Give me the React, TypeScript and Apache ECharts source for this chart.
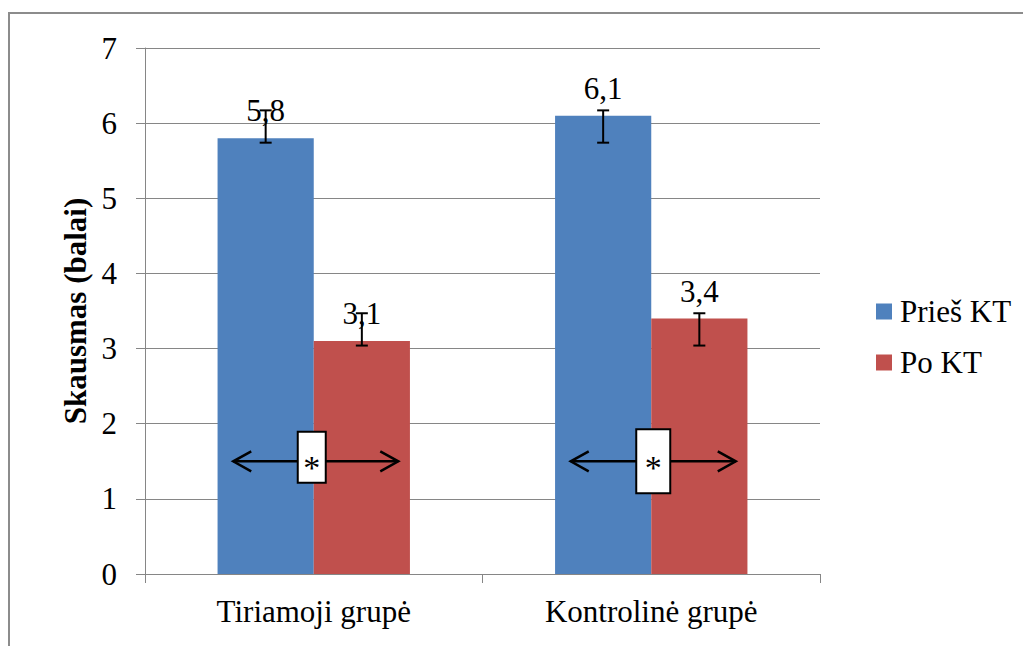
import React, { useEffect, useRef } from "react";
import * as echarts from "echarts";

const categories = ["Tiriamoji grupė", "Kontrolinė grupė"];
const seriesNames = ["Prieš KT", "Po KT"];
const priesValues = [5.8, 6.1];
const poValues = [3.1, 3.4];
const priesErrLow = [5.74, 5.74];
const priesErrHigh = [6.17, 6.17];
const poErrLow = [3.04, 3.04];
const poErrHigh = [3.47, 3.47];
const significanceY = [1.5, 1.5];
const significanceMark = ["*", "*"];
const yTicks = [0, 1, 2, 3, 4, 5, 6, 7];

const FONT = "Liberation Serif";
const BLUE = "#4F81BD";
const RED = "#C0504D";
const GRAY = "#868686";
const BAR_FRAC = 0.285;

// annotation box styling per group
const boxStyles = [
  { w: 28, h: 51, dx: -2, dy: -4 },
  { w: 34, h: 64, dx: 2, dy: 0 },
];

function errorSeries(low: number[], high: number[], sign: number) {
  return {
    type: "custom",
    z: 5,
    silent: true,
    data: categories.map((_, i) => [i, low[i], high[i]]),
    encode: { x: 0, y: [1, 2] },
    renderItem: (params: any, api: any) => {
      const idx = api.value(0);
      const base = api.coord([idx, 0]);
      const catW = api.size([1, 0])[0];
      const cx = base[0] + (sign * BAR_FRAC * catW) / 2;
      const yLo = api.coord([idx, api.value(1)])[1];
      const yHi = api.coord([idx, api.value(2)])[1];
      const cap = 6;
      const st = { stroke: "#000", lineWidth: 2 };
      return {
        type: "group",
        children: [
          { type: "line", shape: { x1: cx, y1: yLo, x2: cx, y2: yHi }, style: st },
          { type: "line", shape: { x1: cx - cap, y1: yLo, x2: cx + cap, y2: yLo }, style: st },
          { type: "line", shape: { x1: cx - cap, y1: yHi, x2: cx + cap, y2: yHi }, style: st },
        ],
      };
    },
  };
}

export default function App() {
  const ref = useRef<HTMLDivElement>(null);
  useEffect(() => {
    if (!ref.current) return;
    const chart = echarts.init(ref.current, null, { renderer: "svg" });
    const labelFmt = (p: any) => String(p.value).replace(".", ",");
    const txt = { fontFamily: FONT, fontSize: 31, color: "#000" };
    chart.setOption({
      animation: false,
      backgroundColor: "#fff",
      textStyle: { fontFamily: FONT },
      graphic: [
        {
          type: "rect",
          shape: { x: 9, y: 13, width: 1100, height: 700 },
          style: { fill: "none", stroke: "#8c8c8c", lineWidth: 2 },
          silent: true,
        },
      ],
      grid: { left: 145, top: 48, right: 203, bottom: 72 },
      legend: {
        orient: "vertical",
        left: 871,
        top: 291,
        itemWidth: 16,
        itemHeight: 16,
        itemGap: 20,
        icon: "rect",
        data: seriesNames,
        textStyle: { ...txt, padding: [0, 0, 0, 3] },
      },
      xAxis: {
        type: "category",
        data: categories,
        axisLine: { show: true, lineStyle: { color: GRAY, width: 1 } },
        axisTick: { show: true, length: 9, lineStyle: { color: GRAY } },
        axisLabel: { ...txt, margin: 22 },
      },
      yAxis: {
        type: "value",
        min: 0,
        max: 7,
        interval: 1,
        name: "Skausmas (balai)",
        nameLocation: "middle",
        nameRotate: 90,
        nameGap: 52,
        nameTextStyle: { ...txt, fontWeight: "bold" },
        axisLine: { show: true, lineStyle: { color: GRAY, width: 1 } },
        axisTick: { show: true, length: 9, lineStyle: { color: GRAY } },
        splitLine: { show: true, lineStyle: { color: GRAY, width: 1 } },
        axisLabel: {
          ...txt,
          margin: 28,
          formatter: (v: number) => (yTicks.includes(v) ? String(v) : ""),
        },
      },
      series: [
        {
          name: seriesNames[0],
          type: "bar",
          data: priesValues,
          barWidth: BAR_FRAC * 100 + "%",
          barGap: "0%",
          itemStyle: { color: BLUE },
          label: { show: true, position: "top", distance: 12, formatter: labelFmt, ...txt },
        },
        {
          name: seriesNames[1],
          type: "bar",
          data: poValues,
          barWidth: BAR_FRAC * 100 + "%",
          barGap: "0%",
          itemStyle: { color: RED },
          label: { show: true, position: "top", distance: 12, formatter: labelFmt, ...txt },
        },
        errorSeries(priesErrLow, priesErrHigh, -1),
        errorSeries(poErrLow, poErrHigh, 1),
        {
          type: "custom",
          z: 6,
          silent: true,
          data: categories.map((_, i) => [i, significanceY[i]]),
          encode: { x: 0, y: 1 },
          renderItem: (params: any, api: any) => {
            const i = params.dataIndex;
            const p = api.coord([api.value(0), api.value(1)]);
            const catW = api.size([1, 0])[0];
            const cx = p[0] + 2;
            const cy = p[1];
            const half = 0.2445 * catW;
            const bs = boxStyles[i] || boxStyles[0];
            const st = { stroke: "#000", lineWidth: 2.5, fill: "none" };
            const l = cx - half;
            const r = cx + half;
            const bx = p[0] + bs.dx;
            const by = cy + bs.dy;
            return {
              type: "group",
              children: [
                { type: "line", shape: { x1: l, y1: cy, x2: r, y2: cy }, style: st },
                { type: "polyline", shape: { points: [[l + 18, cy - 10], [l, cy], [l + 18, cy + 10]] }, style: st },
                { type: "polyline", shape: { points: [[r - 18, cy - 10], [r, cy], [r - 18, cy + 10]] }, style: st },
                {
                  type: "rect",
                  shape: { x: bx - bs.w / 2, y: by - bs.h / 2, width: bs.w, height: bs.h },
                  style: { fill: "#fff", stroke: "#000", lineWidth: 2 },
                },
                {
                  type: "text",
                  style: {
                    text: significanceMark[i],
                    x: bx,
                    y: cy + 6,
                    align: "center",
                    verticalAlign: "middle",
                    fontFamily: FONT,
                    fontSize: 34,
                    fill: "#000",
                  },
                },
              ],
            };
          },
        },
      ],
    });
    return () => chart.dispose();
  }, []);
  return (
    <div
      ref={ref}
      style={{ position: "fixed", left: 0, top: 0, width: 1023, height: 646, background: "#fff" }}
    />
  );
}
